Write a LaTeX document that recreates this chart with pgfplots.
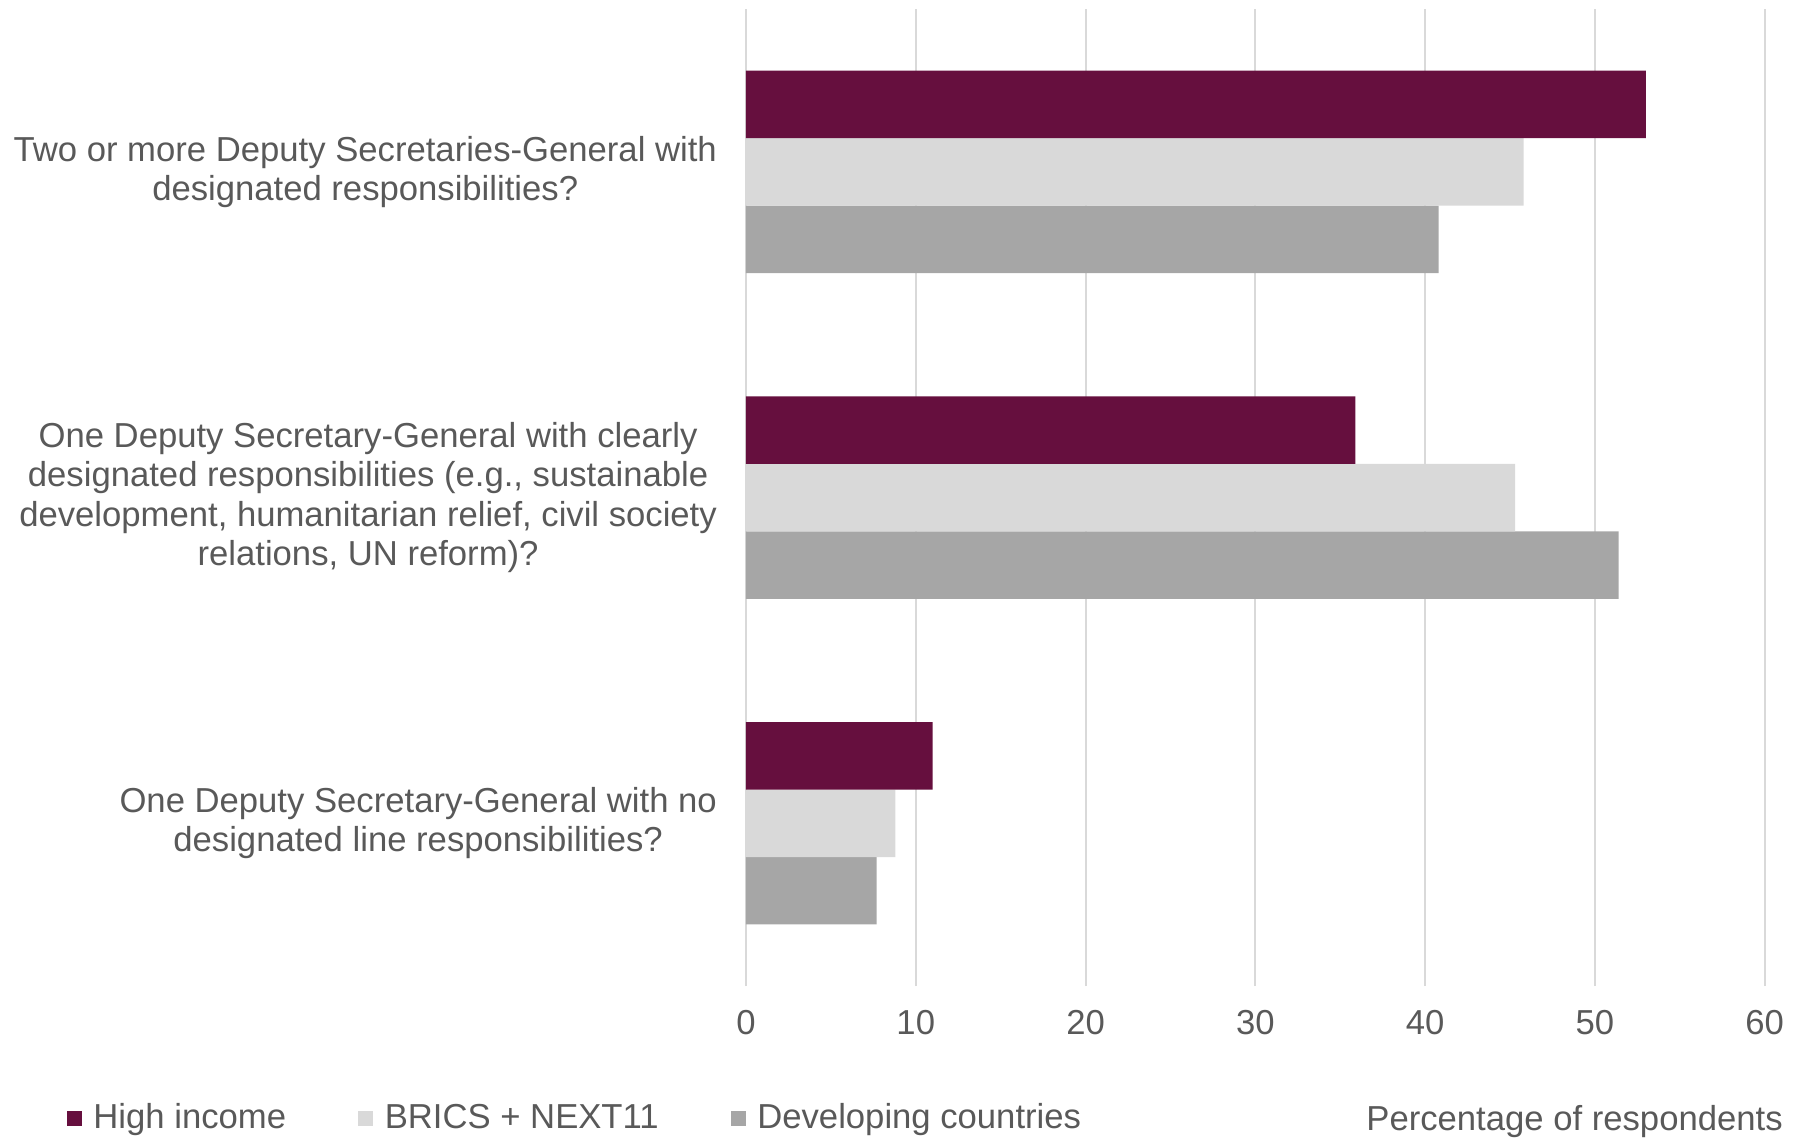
\documentclass[border=0pt]{standalone}
\usepackage{pgfplots}
\pgfplotsset{compat=1.18}
\usepackage{fontspec}
\setmainfont{Liberation Sans}
\definecolor{hiinc}{HTML}{660F3E}
\definecolor{brics}{HTML}{D9D9D9}
\definecolor{devc}{HTML}{A6A6A6}
\definecolor{txt}{HTML}{595959}
\definecolor{gridc}{HTML}{D9D9D9}
\pgfplotsset{sq/.style={legend image code/.code={\fill[##1] (0pt,-2.8pt) rectangle (5.6pt,2.8pt); \path (8pt,0pt);}}}
\begin{document}
\begin{tikzpicture}
\begin{axis}[
    xbar=0pt,
    bar width=25.3pt,
    scale only axis,
    width=382pt, height=366.4pt,
    xmin=0, xmax=60,
    ymin=0.5, ymax=3.5,
    ytick={1,2,3},
    yticklabels={
        {One Deputy Secretary-General with no\\designated line responsibilities?},
        {One Deputy Secretary-General with clearly\\designated responsibilities (e.g., sustainable\\development, humanitarian relief, civil society\\relations, UN reform)?},
        {Two or more Deputy Secretaries-General with\\designated responsibilities?}},
    xtick={0,10,...,60},
    axis line style={draw=none},
    major tick length=0pt,
    xmajorgrids,
    grid style={gridc, line width=0.75pt},
    /pgf/number format/assume math mode=true,
    tick label style={font=\fontsize{13}{14.8}\selectfont, text=txt},
    yticklabel style={align=center, xshift=-7.4pt},
    xticklabel style={yshift=-5.4pt},
    xlabel={Percentage of respondents},
    xlabel style={at={(axis description cs:1,0)}, anchor=east, xshift=10.3pt, yshift=-50.6pt,
        font=\fontsize{13}{14.8}\selectfont, text=txt},
    legend columns=3,
    reverse legend,
    legend style={draw=none, fill=none, inner sep=0pt,
        at={(axis description cs:0,0)}, anchor=west, xshift=-254.9pt, yshift=-49.5pt,
        font=\fontsize{13}{14.8}\selectfont, text=txt,
        /tikz/every even column/.append style={column sep=25pt}},
    legend cell align=left,
]
\addplot[fill=devc, draw=none, sq] coordinates {(7.7,1) (51.4,2) (40.8,3)};
\addplot[fill=brics, draw=none, sq] coordinates {(8.8,1) (45.3,2) (45.8,3)};
\addplot[fill=hiinc, draw=none, sq] coordinates {(11.0,1) (35.9,2) (53.0,3)};
\legend{Developing countries, BRICS + NEXT11, High income}
\end{axis}
\pgfresetboundingbox
\path[use as bounding box] (current axis.south west) ++(-279.75pt,-56.6pt) rectangle ++(672.75pt,426.4pt);
\end{tikzpicture}
\end{document}
